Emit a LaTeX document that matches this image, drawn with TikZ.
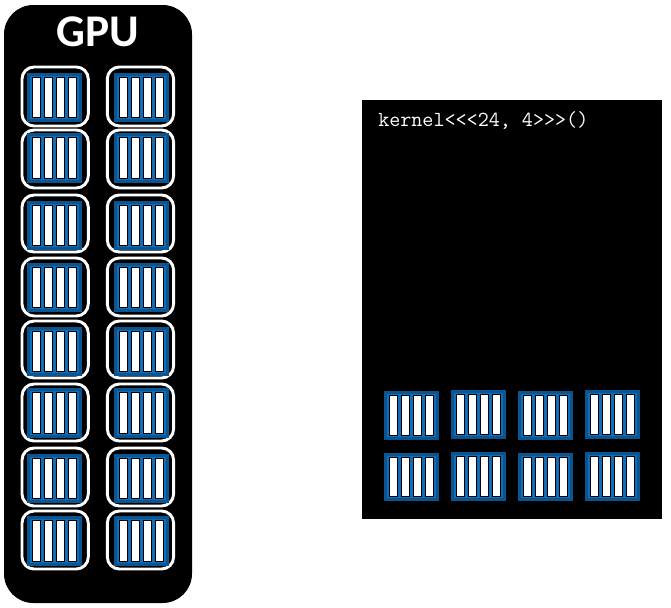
\documentclass[tikz,border=0pt]{standalone}
\usepackage{fontspec}
\setmainfont{Carlito}
\definecolor{bluedark}{HTML}{0A5490}
\definecolor{bluelight}{HTML}{0F6DBA}
\newcommand{\chipbody}[4]{% name, x, y, height (top-left of blue, width 55)
  \fill[bluedark] (#2,#3) rectangle (#2+55,#3+#4);
  \fill[bluelight] (#2+3,#3+3) rectangle (#2+52,#3+#4-3);
  \foreach \i in {0,1,2,3} {
    \draw[barcell] (#2+5.5+\i*12,#3+4.5) rectangle (#2+13.5+\i*12,#3+#4-4.5);
  }
  \coordinate (#1) at (#2+27.5,#3+0.5*#4);
}
\begin{document}
\begin{tikzpicture}[x=0.75pt,y=-0.75pt,
  barcell/.style={fill=white,draw=black,line width=0.85pt},
  gpubody/.style={fill=black,rounded corners=22pt},
  slot/.style={draw=white,line width=2.2pt,rounded corners=9pt}]
\useasboundingbox (0,0) rectangle (671,607);
\fill[white] (0,0) rectangle (671,607);
\fill[gpubody] (4,5) rectangle (192,603);
\node[text=white,font=\bfseries\fontsize{34}{38}\selectfont,inner sep=0pt] (gpu) at (97.5,32) {GPU};
\foreach \c/\x/\bx in {0/22/27.3,1/107.3/114} {
  \foreach \r/\t/\b/\bt/\bh in {0/67/126/73/49,1/130/188/133/50,2/195/252/201/49,3/258/316/263/49,4/321/378/327/49,5/384/441/388/50,6/448/506/454/49,7/511/569/516/50} {
    \draw[slot] (\x,\t) rectangle (\x+66.3,\b);
    \chipbody{c\c\r}{\bx}{\bt}{\bh}
  }
}
\fill[black] (362,100) rectangle (662,519);
\node[anchor=west,text=white,font=\ttfamily\fontsize{16.1}{18}\selectfont,inner sep=0pt] (code) at (378,121) {kernel<{}<{}<24, 4>{}>{}>()};
\chipbody{r1}{384}{391}{49}
\chipbody{r2}{451}{390}{49}
\chipbody{r3}{518}{391}{49}
\chipbody{r4}{585}{390}{49}
\chipbody{r5}{384}{453}{48}
\chipbody{r6}{451}{452}{49}
\chipbody{r7}{518}{453}{48}
\chipbody{r8}{585}{452}{49}
\end{tikzpicture}
\end{document}
